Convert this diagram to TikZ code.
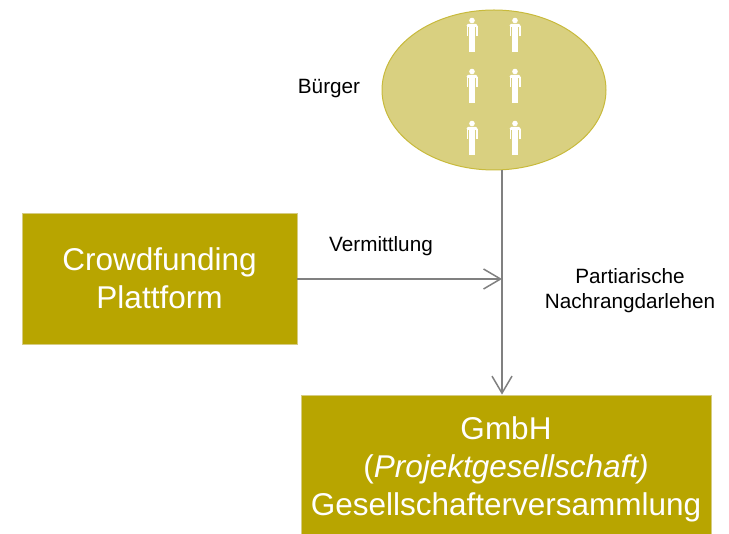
\documentclass[tikz,border=0pt]{standalone}
\usepackage{fontspec}
\setmainfont{Liberation Sans}
\usetikzlibrary{arrows.meta,shapes.geometric}
\definecolor{boxgold}{RGB}{184,165,0}
\definecolor{boxedge}{RGB}{214,204,130}
\definecolor{ellfill}{RGB}{217,208,128}
\definecolor{elledge}{RGB}{200,186,60}
\definecolor{arrowgray}{RGB}{128,128,128}
\tikzset{
  goldbox/.style={draw=boxedge, line width=0.8pt, fill=boxgold, text=white, align=center,
    font=\fontsize{31.5}{38}\selectfont, inner sep=0pt},
  lbl/.style={text=black, align=center, font=\fontsize{20.7}{25}\selectfont, inner sep=0pt},
  conn/.style={draw=arrowgray, line width=1.5pt, -{Straight Barb[length=17pt,width=20pt,line width=1.5pt]}},
  person/.pic={
    \fill[white] (0,-14.5) circle (2.8);
    \fill[white, rounded corners=1.5pt] (-5.5,-11) rectangle (5.5,-8);
    \fill[white] (-5.5,-9) rectangle (-4.3,1);
    \fill[white] (4.3,-9) rectangle (5.5,1);
    \fill[white] (-3.4,-9) rectangle (3.4,3);
    \fill[white] (-3.4,2) rectangle (-0.4,17.5);
    \fill[white] (0.4,2) rectangle (3.4,17.5);
  }
}
\begin{document}
\begin{tikzpicture}[x=1pt,y=-1pt]
\useasboundingbox (0,0) rectangle (729,534);
\clip (0,0) rectangle (729,534);
% ellipse of citizens
\node[ellipse, draw=elledge, line width=1pt, fill=ellfill, minimum width=224pt, minimum height=160pt, inner sep=0pt] (ell) at (494,90) {};
\foreach \py in {35,86,138}{
  \pic at (472,\py) {person};
  \pic at (515,\py) {person};
}
\node[lbl] (buerger) at (329,89) {Bürger};
% boxes
\node[goldbox, minimum width=275pt, minimum height=131pt] (crowd) at (159.5,278.5) {Crowdfunding\\Plattform};
\node[goldbox, minimum width=410pt, minimum height=148pt] (gmbh) at (506,469) {GmbH\\(\textit{Projektgesellschaft)}\\Gesellschafterversammlung};
% labels
\node[lbl] (verm) at (381,246) {Vermittlung};
\node[lbl] (part) at (630,291) {Partiarische\\Nachrangdarlehen};
% connectors
\coordinate (j) at (502,279);
\draw[conn] (j |- ell.south) -- (j |- gmbh.north);
\draw[conn] (crowd.east |- j) -- (j);
\end{tikzpicture}
\end{document}
